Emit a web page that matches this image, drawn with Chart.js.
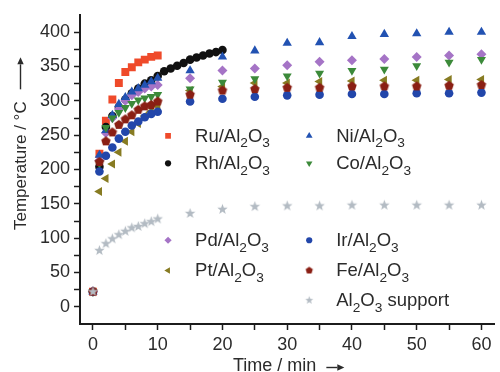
<!DOCTYPE html>
<html>
<head>
<meta charset="utf-8">
<script src="https://cdn.jsdelivr.net/npm/chart.js@4/dist/chart.umd.min.js"></script>
<style>
  html, body { margin: 0; padding: 0; background: #fff; }
  #wrap { width: 500px; height: 372px; }
</style>
</head>
<body>
<div id="wrap"><canvas id="chart" width="500" height="372"></canvas></div>
<script>
// time axes (min)
const tLong = [0, 1, 2, 3, 4, 5, 6, 7, 8, 9, 10, 15, 20, 25, 30, 35, 40, 45, 50, 55, 60];
const tRh = [0, 1, 2, 3, 4, 5, 6, 7, 8, 9, 10, 11, 12, 13, 14, 15, 16, 17, 18, 19, 20];
const tRu = [0, 1, 2, 3, 4, 5, 6, 7, 8, 9, 10];

// temperatures (°C)
const ruVals = [22, 223, 271, 302, 326, 342, 349, 356, 360, 364, 366];
const rhVals = [22, 204, 262, 278, 291, 302, 311, 318, 325, 330, 336, 343, 347, 351, 355, 360, 363, 366, 369, 371, 374];
const niVals = [22, 221, 257, 279, 295, 305, 313, 318, 323, 328, 333, 344, 364, 373, 384, 385, 394, 397, 398, 400, 400];
const coVals = [22, 209, 261, 275, 283, 290, 296, 301, 304, 306, 309, 317, 327, 332, 336, 340, 344, 346, 351, 356, 360];
const pdVals = [22, 213, 253, 275, 288, 300, 308, 313, 318, 321, 323, 333, 344, 347, 352, 357, 359, 361, 364, 366, 368];
const ptVals = [22, 168, 187, 208, 225, 241, 255, 267, 278, 285, 292, 315, 321, 326, 326, 328, 329, 330, 330, 331, 331];
const irVals = [22, 197, 220, 232, 245, 255, 264, 270, 276, 281, 284, 299, 303, 306, 308, 309, 310, 310, 311, 311, 312];
const feVals = [22, 211, 241, 254, 265, 273, 279, 287, 292, 294, 299, 309, 315, 317, 319, 319, 321, 321, 321, 322, 323];
const supVals = [22, 82, 92, 99, 105, 110, 115, 117, 121, 124, 128, 136, 142, 146, 147, 147, 148, 148, 148, 148, 148];

const FONT = "'Liberation Sans', Arial, sans-serif";
const TEXT = '#2b2b2b';

// custom filled shapes (pentagon, star) as small canvases
function shapeCanvas(kind, color, r) {
  const c = document.createElement('canvas');
  const s = Math.ceil(r * 2 + 2);
  c.width = s; c.height = s;
  const g = c.getContext('2d');
  g.fillStyle = color;
  g.beginPath();
  const n = kind === 'star' ? 10 : 5;
  for (let i = 0; i < n; i++) {
    const a = -Math.PI / 2 + i * 2 * Math.PI / n;
    const rr = kind === 'star' && i % 2 ? r * 0.42 : r;
    const px = s / 2 + rr * Math.cos(a), py = s / 2 + rr * Math.sin(a);
    i ? g.lineTo(px, py) : g.moveTo(px, py);
  }
  g.closePath();
  g.fill();
  return c;
}

const series = [
  { key: 'sup', label: 'Al_2O_3 support', t: tLong, v: supVals, color: '#b3bbc3', style: 'star' },
  { key: 'fe', label: 'Fe/Al_2O_3', t: tLong, v: feVals, color: '#8a1f14', style: 'pentagon' },
  { key: 'ir', label: 'Ir/Al_2O_3', t: tLong, v: irVals, color: '#2246aa', style: 'circle', r: 4.3 },
  { key: 'co', label: 'Co/Al_2O_3', t: tLong, v: coVals, color: '#3c8a3a', style: 'triangle', rot: 180, r: 5.2 },
  { key: 'ni', label: 'Ni/Al_2O_3', t: tLong, v: niVals, color: '#2252b2', style: 'triangle', r: 5.4 },
  { key: 'pt', label: 'Pt/Al_2O_3', t: tLong, v: ptVals, color: '#877b22', style: 'triangle', rot: -90, r: 5.2 },
  { key: 'pd', label: 'Pd/Al_2O_3', t: tLong, v: pdVals, color: '#a574c6', style: 'rectRot', r: 5 },
  { key: 'rh', label: 'Rh/Al_2O_3', t: tRh, v: rhVals, color: '#111111', style: 'circle', r: 4.3 },
  { key: 'ru', label: 'Ru/Al_2O_3', t: tRu, v: ruVals, color: '#ef4a2a', style: 'rect', r: 5.6 }
];

series.forEach(s => {
  if (s.style === 'star') { s.img = shapeCanvas('star', s.color, 5.5); s.imgSmall = shapeCanvas('star', s.color, 4.2); }
  if (s.style === 'pentagon') { s.img = shapeCanvas('pentagon', s.color, 5); s.imgSmall = shapeCanvas('pentagon', s.color, 3.8); }
});

// legend layout: column x (min) and row y (°C) in data units
const legendCols = [11.6, 33.4];
const legendRows = [249, 209, 97, 53, 9.5];
const legendItems = [
  ['ru', 0, 0], ['rh', 0, 1], ['pd', 0, 2], ['pt', 0, 3],
  ['ni', 1, 0], ['co', 1, 1], ['ir', 1, 2], ['fe', 1, 3], ['sup', 1, 4]
];

function drawSubText(ctx, str, x, y, size) {
  const parts = str.split(/_(\d)/);
  parts.forEach((p, i) => {
    if (!p) return;
    const sub = i % 2 === 1;
    ctx.font = (sub ? size * 0.74 : size) + 'px ' + FONT;
    ctx.fillText(p, x, sub ? y + 5.5 : y);
    x += ctx.measureText(p).width;
  });
}

const legendPlugin = {
  id: 'subLegend',
  afterDraw(chart) {
    const { ctx, scales: { x, y } } = chart;
    ctx.save();
    legendItems.forEach(([key, c, r]) => {
      const s = series.find(d => d.key === key);
      const px = x.getPixelForValue(legendCols[c]);
      const py = y.getPixelForValue(legendRows[r]);
      ctx.fillStyle = s.color;
      ctx.strokeStyle = s.color;
      ctx.lineWidth = 0;
      Chart.helpers.drawPoint(ctx, {
        pointStyle: s.imgSmall || s.style,
        rotation: s.rot || 0,
        radius: (s.r || 5) * 0.72,
        borderWidth: 0
      }, px, py);
      ctx.fillStyle = TEXT;
      ctx.textBaseline = 'alphabetic';
      ctx.textAlign = 'left';
      drawSubText(ctx, s.label, px + 27, py + 6, 18.5);
    });
    ctx.restore();
  }
};

function arrow(ctx, x1, y1, x2, y2) {
  const a = Math.atan2(y2 - y1, x2 - x1), hl = 7, hw = 3.2;
  ctx.beginPath();
  ctx.moveTo(x1, y1);
  ctx.lineTo(x2 - hl * Math.cos(a), y2 - hl * Math.sin(a));
  ctx.stroke();
  ctx.beginPath();
  ctx.moveTo(x2, y2);
  ctx.lineTo(x2 - hl * Math.cos(a) - hw * Math.sin(a), y2 - hl * Math.sin(a) + hw * Math.cos(a));
  ctx.lineTo(x2 - hl * Math.cos(a) + hw * Math.sin(a), y2 - hl * Math.sin(a) - hw * Math.cos(a));
  ctx.closePath();
  ctx.fill();
}

const titlePlugin = {
  id: 'axisTitles',
  afterDraw(chart) {
    const { ctx } = chart;
    ctx.save();
    ctx.fillStyle = TEXT;
    ctx.strokeStyle = TEXT;
    ctx.lineWidth = 1.4;
    ctx.textBaseline = 'alphabetic';
    ctx.textAlign = 'left';

    // y title, reading upward, then arrow
    ctx.font = '17px ' + FONT;
    const yt = 'Temperature / °C';
    const yw = ctx.measureText(yt).width;
    ctx.save();
    ctx.translate(25.5, 230);
    ctx.rotate(-Math.PI / 2);
    ctx.fillText(yt, 0, 0);
    ctx.restore();
    arrow(ctx, 20.5, 230 - yw - 12, 20.5, 230 - yw - 44);

    // x title then arrow
    ctx.font = '18px ' + FONT;
    const xt = 'Time / min';
    const xw = ctx.measureText(xt).width;
    ctx.fillText(xt, 233, 371);
    arrow(ctx, 233 + xw + 10, 367.5, 233 + xw + 28, 367.5);
    ctx.restore();
  }
};

const axisCommon = {
  type: 'linear',
  border: { color: '#1c1c1c', width: 2 },
  grid: { drawOnChartArea: false, color: '#1c1c1c', tickLength: 6, tickWidth: 1.5 }
};

// label every `major`, bare tick every `minor`, nothing elsewhere
const tickLabel = (major, minor, lo, hi) => v => {
  const r = Math.round(v);
  if (Math.abs(v - r) > 1e-6 || r < lo || r > hi || r % minor !== 0) return null;
  return r % major === 0 ? String(r) : '';
};

new Chart(document.getElementById('chart'), {
  type: 'scatter',
  data: {
    datasets: series.map(s => ({
      label: s.label,
      data: s.t.map((t, i) => ({ x: t, y: s.v[i] })),
      pointStyle: s.img || s.style,
      pointRotation: s.rot || 0,
      pointRadius: s.r || 5,
      pointBorderWidth: 0,
      backgroundColor: s.color,
      borderColor: s.color
    }))
  },
  options: {
    responsive: false,
    animation: false,
    layout: { padding: { top: 15, right: 0, left: 0, bottom: 0 } },
    plugins: { legend: { display: false }, tooltip: { enabled: false } },
    scales: {
      x: {
        ...axisCommon,
        min: -2, max: 62,
        afterFit: s => { s.height = 48; },
        afterBuildTicks: s => {
          s.ticks = [];
          for (let v = 0; v <= 60; v += 5) s.ticks.push({ value: v });
        },
        ticks: {
          autoSkip: false, maxRotation: 0, padding: 4,
          color: TEXT, font: { size: 18, family: FONT },
          callback: tickLabel(10, 5, 0, 60)
        }
      },
      y: {
        ...axisCommon,
        min: -25, max: 425,
        afterFit: s => { s.width = 80; },
        afterBuildTicks: s => {
          s.ticks = [];
          for (let v = 0; v <= 400; v += 25) s.ticks.push({ value: v });
        },
        ticks: {
          autoSkip: false, padding: 4,
          color: TEXT, font: { size: 18, family: FONT },
          callback: tickLabel(50, 25, 0, 400)
        }
      }
    }
  },
  plugins: [legendPlugin, titlePlugin]
});
</script>
</body>
</html>
